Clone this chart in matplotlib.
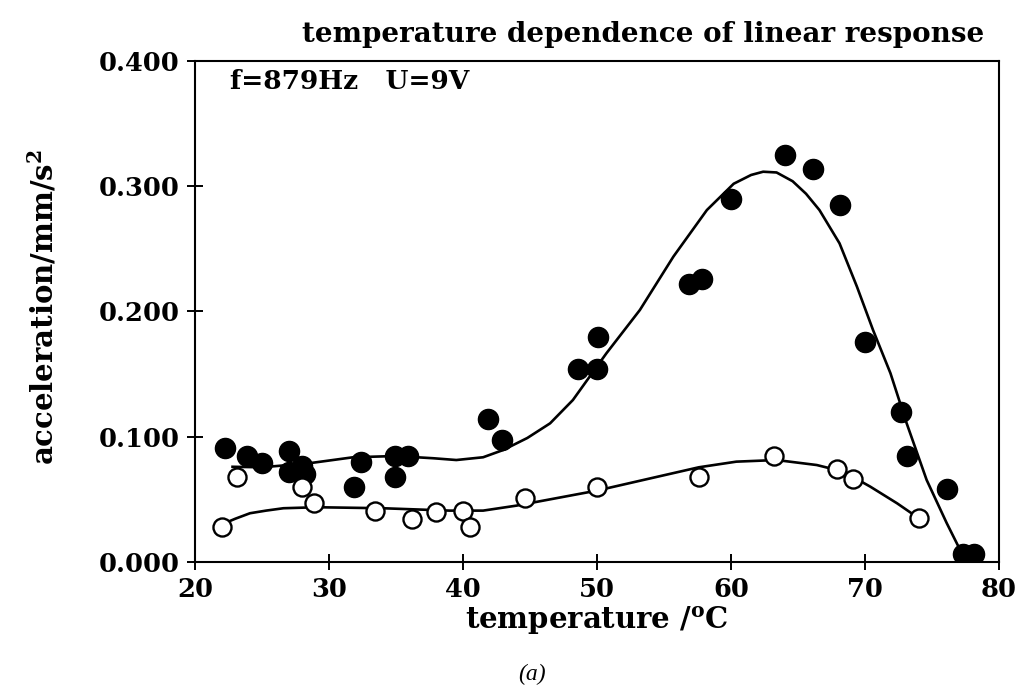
import matplotlib
matplotlib.use("Agg")
import matplotlib.pyplot as plt

# ---- data ----
filled_T = [22.2, 23.9, 25.0, 27.0, 27.0, 28.0, 28.2, 31.9, 32.4, 34.9, 34.9, 35.9,
            41.9, 42.9, 48.6, 50.0, 50.1, 56.9, 57.8, 60.0, 64.0, 66.1, 68.1, 70.0,
            72.7, 73.1, 76.1, 77.3, 78.1]
filled_A = [0.091, 0.085, 0.079, 0.089, 0.072, 0.077, 0.070, 0.060, 0.080, 0.085, 0.068, 0.085,
            0.114, 0.097, 0.154, 0.154, 0.180, 0.222, 0.226, 0.290, 0.325, 0.314, 0.285, 0.176,
            0.120, 0.085, 0.058, 0.006, 0.006]

open_T = [22.0, 23.1, 28.0, 28.9, 33.4, 36.2, 38.0, 40.0, 40.5, 44.6,
          50.0, 57.6, 63.2, 67.9, 69.1, 74.0]
open_A = [0.028, 0.068, 0.060, 0.047, 0.041, 0.034, 0.040, 0.041, 0.028, 0.051,
          0.060, 0.068, 0.085, 0.074, 0.066, 0.035]

# fitted curves
fit1_T = [22.8, 25.0, 28.5, 31.8, 35.0, 37.8, 39.5, 41.5, 43.0, 44.8, 46.5, 48.2,
          50.7, 53.2, 55.7, 58.2, 60.2, 61.5, 62.4, 63.4, 64.6, 65.6, 66.6, 68.1,
          69.4, 70.6, 71.9, 73.1, 74.6, 76.1, 77.1, 77.5]
fit1_A = [0.076, 0.0756, 0.0788, 0.0836, 0.0846, 0.0828, 0.0814, 0.0836, 0.0894, 0.099, 0.1107, 0.1293,
          0.1666, 0.2012, 0.2438, 0.281, 0.302, 0.309, 0.3116, 0.311, 0.304, 0.294, 0.281, 0.2544,
          0.2198, 0.1852, 0.1507, 0.111, 0.0655, 0.031, 0.0096, 0.002]

fit2_T = [22.0, 23.0, 24.1, 25.3, 26.6, 29.1, 34.0, 39.0, 41.5, 44.0, 46.5, 50.0,
          54.0, 57.6, 60.4, 63.4, 66.4, 68.4, 70.4, 72.4, 74.0]
fit2_A = [0.030, 0.0345, 0.0389, 0.041, 0.0429, 0.0437, 0.0429, 0.041, 0.041, 0.045, 0.050, 0.057,
          0.0668, 0.0756, 0.0801, 0.0814, 0.0774, 0.0721, 0.0601, 0.0468, 0.035]

x_ticks = [20, 30, 40, 50, 60, 70, 80]
y_ticks = [0.0, 0.1, 0.2, 0.3, 0.4]
y_ticklabels = ["0.000", "0.100", "0.200", "0.300", "0.400"]

plt.rcParams['font.family'] = ['DejaVu Serif']
plt.rcParams['font.weight'] = 'bold'
plt.rcParams['axes.titleweight'] = 'bold'
plt.rcParams['axes.labelweight'] = 'bold'
plt.rcParams['mathtext.fontset'] = 'custom'
plt.rcParams['mathtext.rm'] = 'DejaVu Serif:bold'
plt.rcParams['mathtext.it'] = 'DejaVu Serif:bold'
plt.rcParams['mathtext.bf'] = 'DejaVu Serif:bold'

fig = plt.figure(figsize=(10.2, 6.87), dpi=100)
ax = fig.add_axes([0.1912, 0.1820, 0.7882, 0.7292])

ax.plot(fit1_T, fit1_A, color='black', lw=1.9, solid_joinstyle='round', zorder=2)
ax.plot(fit2_T, fit2_A, color='black', lw=1.9, solid_joinstyle='round', zorder=2)
ax.plot(filled_T, filled_A, 'o', color='black', ms=14.5, zorder=3)
ax.plot(open_T, open_A, 'o', mfc='white', mec='black', mew=1.7, ms=13, zorder=3)

ax.set_xlim(20, 80)
ax.set_ylim(0, 0.4)
ax.set_xticks(x_ticks)
ax.set_yticks(y_ticks)
ax.set_yticklabels(y_ticklabels)
ax.tick_params(direction='inout', length=12, width=1.4, labelsize=18.5, pad=5)
for s in ax.spines.values():
    s.set_linewidth(1.5)

ax.set_xlabel('temperature /$^{\\mathrm{o}}$C', fontsize=21, labelpad=2)
fig.text(43 / 1020, 1 - 307 / 687, 'acceleration/mm/s$^{2}$', fontsize=21,
         rotation=90, ha='center', va='center')
fig.text(643 / 1020, 1 - 42 / 687, 'temperature dependence of linear response',
         fontsize=20, ha='center', va='baseline')
ax.text(0.044, 0.985, 'f=879Hz   U=9V', transform=ax.transAxes, fontsize=19,
        va='top', ha='left')

fig.text(0.522, 1 - 674 / 687, '(a)', fontsize=17, style='italic', weight='normal',
         family=['Liberation Serif'], ha='center', va='center')

fig.savefig('out.png', dpi=100)
